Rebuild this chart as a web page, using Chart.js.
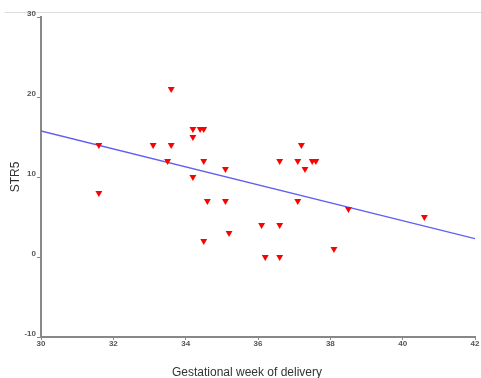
<!DOCTYPE html>
<html>
<head>
<meta charset="utf-8">
<script src="https://cdn.jsdelivr.net/npm/chart.js@4/dist/chart.umd.min.js"></script>
<style>
  body { margin: 0; background: #fff; }
  canvas { display: block; }
</style>
</head>
<body>
<canvas id="chart" width="481" height="378"></canvas>
<script>
// gestational week vs STR5, one entry per case
const weeks = [31.6, 31.6, 33.1, 33.5, 33.6, 33.6, 34.2, 34.4, 34.5, 34.2, 34.2, 34.5, 34.6, 34.5,
    35.1, 35.1, 35.2, 36.1, 36.2, 36.6, 36.6, 36.6, 37.1, 37.1, 37.2, 37.3, 37.5, 37.6, 38.1, 38.5, 40.6];
const str5 = [14, 8, 14, 12, 21, 14, 16, 16, 16, 15, 10, 12, 7, 2,
    11, 7, 3, 4, 0, 4, 0, 12, 12, 7, 14, 11, 12, 12, 1, 6, 5];

// fitted line end points
const fitX = [30, 42];
const fitY = [15.75, 2.3];

const xTicks = [30, 32, 34, 36, 38, 40, 42];
const yTicks = [-10, 0, 10, 20, 30];

const xTitle = 'Gestational week of delivery';

let toPoints = (xs, ys) => xs.map((x, i) => ({ x: x, y: ys[i] }));

const tickFont = { family: 'Liberation Sans, Arial, sans-serif', size: 8, weight: 'bold' };
const titleFont = { family: 'Liberation Sans, Arial, sans-serif', size: 12 };

// white page, thin rule across the top, and the x title a bit left of the plot centre
const decorations = {
    id: 'decorations',
    beforeDraw(chart) {
        let ctx = chart.ctx;
        ctx.save();
        ctx.fillStyle = '#fff';
        ctx.fillRect(0, 0, chart.width, chart.height);
        ctx.strokeStyle = '#dddddd';
        ctx.lineWidth = 1;
        ctx.beginPath();
        ctx.moveTo(5, 12.5);
        ctx.lineTo(chart.width, 12.5);
        ctx.stroke();
        ctx.restore();
    },
    afterDraw(chart) {
        let ctx = chart.ctx;
        ctx.save();
        ctx.font = '12px Liberation Sans, Arial, sans-serif';
        ctx.fillStyle = '#333';
        ctx.textAlign = 'center';
        ctx.textBaseline = 'middle';
        ctx.fillText(xTitle, 247, 373);
        ctx.restore();
    }
};

let ctx = document.querySelector('#chart').getContext('2d');

let chart = new Chart(ctx, {
    type: 'scatter',
    data: {
        datasets: [{
            data: toPoints(weeks, str5),
            pointStyle: 'triangle',
            rotation: 180,
            radius: 4,
            backgroundColor: '#ff0000',
            borderWidth: 0
        }, {
            type: 'line',
            data: toPoints(fitX, fitY),
            borderColor: '#5f5ff2',
            borderWidth: 1.3,
            pointRadius: 0,
            fill: false
        }]
    },
    options: {
        responsive: false,
        devicePixelRatio: 1,
        animation: false,
        layout: { padding: { top: 17, right: 6, bottom: 0, left: 0 } },
        plugins: {
            legend: { display: false },
            tooltip: { enabled: false }
        },
        scales: {
            x: {
                type: 'linear',
                min: 30,
                max: 42,
                afterBuildTicks: (scale) => { scale.ticks = xTicks.map(v => ({ value: v })); },
                afterFit: (scale) => { scale.height = 41; },
                grid: { drawOnChartArea: false, tickLength: 3, color: '#888' },
                border: { color: '#888', width: 2 },
                ticks: { font: tickFont, color: '#555', padding: -1, maxRotation: 0 }
            },
            y: {
                min: -10,
                max: 30,
                afterBuildTicks: (scale) => { scale.ticks = yTicks.map(v => ({ value: v })); },
                afterFit: (scale) => { scale.width = 41; },
                grid: { drawOnChartArea: false, tickLength: 4, color: '#888' },
                border: { color: '#888', width: 2 },
                ticks: { font: tickFont, color: '#555', padding: 1, labelOffset: -3 },
                title: {
                    display: true,
                    text: 'STR5',
                    font: titleFont,
                    color: '#333',
                    padding: { top: 8, bottom: 0 }
                }
            }
        }
    },
    plugins: [decorations]
});
</script>
</body>
</html>
